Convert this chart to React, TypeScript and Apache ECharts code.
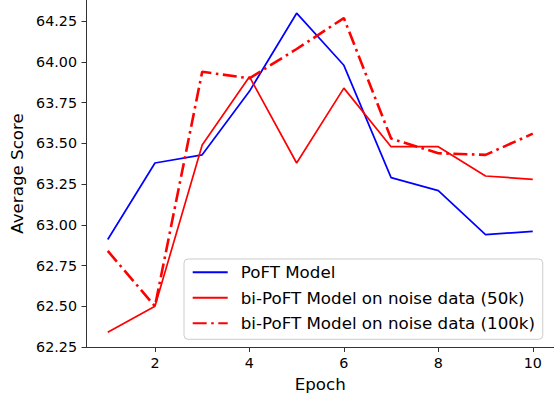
import React, { useEffect, useRef } from 'react';
import * as echarts from 'echarts';

const epochs = [1, 2, 3, 4, 5, 6, 7, 8, 9, 10];
const poft = [62.91, 63.38, 63.43, 63.82, 64.3, 63.98, 63.29, 63.21, 62.94, 62.96];
const noise50k = [62.34, 62.5, 63.49, 63.91, 63.38, 63.84, 63.48, 63.48, 63.3, 63.28];
const noise100k = [62.84, 62.5, 63.94, 63.9, 64.08, 64.27, 63.53, 63.44, 63.43, 63.56];
const xTicks = [2, 4, 6, 8, 10];
const yTicks = [62.25, 62.5, 62.75, 63.0, 63.25, 63.5, 63.75, 64.0, 64.25];
const seriesNames = [
  'PoFT Model',
  'bi-PoFT Model on noise data (50k)',
  'bi-PoFT Model on noise data (100k)',
];

const FONT = 'DejaVu Sans';
const AXIS_COLOR = '#333333';

export default function App() {
  const ref = useRef<HTMLDivElement>(null);
  useEffect(() => {
    document.body.style.margin = '0';
    const chart = echarts.init(ref.current!, null, { renderer: 'svg' });
    const pair = (ys: number[]) => epochs.map((x, i) => [x, ys[i]]);
    chart.setOption({
      animation: false,
      backgroundColor: '#ffffff',
      textStyle: { fontFamily: FONT },
      grid: { left: 86.5, top: 0, width: 470.25, height: 347, containLabel: false },
      xAxis: {
        type: 'value',
        min: 0.55,
        max: 10.45,
        name: 'Epoch',
        nameLocation: 'middle',
        nameGap: 27.5,
        nameTextStyle: { fontFamily: FONT, fontSize: 16.7, color: '#000', lineHeight: 16.7 },
        axisLine: { show: true, lineStyle: { color: AXIS_COLOR, width: 1 } },
        axisTick: { show: true, length: 5, inside: false, customValues: xTicks, lineStyle: { color: AXIS_COLOR } },
        axisLabel: {
          customValues: xTicks,
          margin: 9.3,
          fontFamily: FONT,
          fontSize: 14.3,
          lineHeight: 14.3,
          color: '#000',
          formatter: (v: number) => String(v),
        },
        splitLine: { show: false },
      },
      yAxis: {
        type: 'value',
        min: 62.25,
        max: 64.381,
        name: 'Average Score',
        nameLocation: 'middle',
        nameGap: 55,
        nameTextStyle: { fontFamily: FONT, fontSize: 16.7, color: '#000', lineHeight: 16.7 },
        axisLine: { show: true, lineStyle: { color: AXIS_COLOR, width: 1 } },
        axisTick: { show: true, length: 5, inside: false, customValues: yTicks, lineStyle: { color: AXIS_COLOR } },
        axisLabel: {
          customValues: yTicks,
          margin: 9.5,
          fontFamily: FONT,
          fontSize: 14.3,
          color: '#000',
          formatter: (v: number) => v.toFixed(2),
        },
        splitLine: { show: false },
      },
      legend: {
        orient: 'vertical',
        left: 184,
        top: 259,
        padding: [4.8, 7.7, 7.5, 7.7],
        itemWidth: 35,
        itemHeight: 17,
        itemGap: 8.5,
        backgroundColor: 'rgba(255,255,255,0.8)',
        borderColor: '#cccccc',
        borderWidth: 1,
        borderRadius: 4,
        itemStyle: { opacity: 0 },
        textStyle: {
          fontFamily: FONT,
          fontSize: 16.7,
          lineHeight: 17,
          color: '#000',
          padding: [0, 0, 0, 8],
        },
        data: seriesNames,
      },
      series: [
        {
          name: seriesNames[0],
          type: 'line',
          data: pair(poft),
          symbol: 'none',
          lineStyle: { color: '#0000ff', width: 1.7 },
          itemStyle: { color: '#0000ff' },
        },
        {
          name: seriesNames[1],
          type: 'line',
          data: pair(noise50k),
          symbol: 'none',
          lineStyle: { color: '#ff0000', width: 1.7 },
          itemStyle: { color: '#ff0000' },
        },
        {
          name: seriesNames[2],
          type: 'line',
          data: pair(noise100k),
          symbol: 'none',
          lineStyle: { color: '#ff0000', width: 2.6, type: [14, 4.5, 2.6, 4.5], cap: 'butt' },
          itemStyle: { color: '#ff0000' },
        },
      ],
    });
    return () => chart.dispose();
  }, []);
  return <div ref={ref} style={{ position: 'absolute', left: 0, top: 0, width: 554, height: 398 }} />;
}
